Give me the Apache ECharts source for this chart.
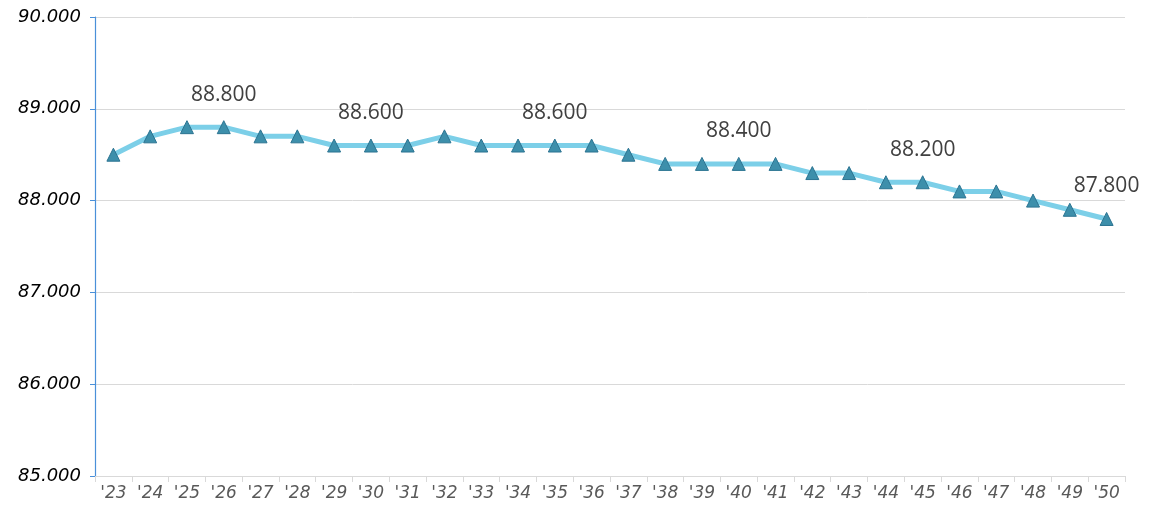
<!DOCTYPE html>
<html>
<head>
<meta charset="utf-8">
<script src="https://cdn.jsdelivr.net/npm/echarts@6/dist/echarts.min.js"></script>
<style>
  html, body { margin: 0; padding: 0; background: #fff; }
  #chart { width: 1156px; height: 509px; }
</style>
</head>
<body>
<div id="chart"></div>
<script>
// years on the x axis
const years = ["'23", "'24", "'25", "'26", "'27", "'28", "'29", "'30", "'31", "'32",
  "'33", "'34", "'35", "'36", "'37", "'38", "'39", "'40", "'41", "'42",
  "'43", "'44", "'45", "'46", "'47", "'48", "'49", "'50"];
const values = [88.5, 88.7, 88.8, 88.8, 88.7, 88.7, 88.6, 88.6, 88.6, 88.7,
  88.6, 88.6, 88.6, 88.6, 88.5, 88.4, 88.4, 88.4, 88.4, 88.3,
  88.3, 88.2, 88.2, 88.1, 88.1, 88.0, 87.9, 87.8];
// points that carry a value label
const labelled = ["'26", "'30", "'35", "'40", "'45", "'50"];

const chart = echarts.init(document.getElementById('chart'));

const seriesData = values.map((v, i) => ({
  value: v,
  label: { show: labelled.includes(years[i]) }
}));

chart.setOption({
  animation: false,
  grid: { left: 95, right: 31, top: 17, bottom: 33 },
  xAxis: {
    type: 'category',
    data: years,
    boundaryGap: true,
    axisLine: { lineStyle: { color: '#d9d9d9', width: 1 } },
    axisTick: { show: true, length: 6, lineStyle: { color: '#d9d9d9' } },
    axisLabel: {
      color: '#595959',
      fontFamily: 'DejaVu Sans',
      fontStyle: 'italic',
      fontSize: 17,
      margin: 9,
      interval: 0
    }
  },
  yAxis: {
    type: 'value',
    min: 85,
    max: 90,
    interval: 1,
    axisLine: { show: true, lineStyle: { color: '#4a90d9', width: 1.2 } },
    axisTick: { show: true, length: 5, lineStyle: { color: '#4a90d9' } },
    splitLine: { lineStyle: { color: '#d9d9d9' } },
    axisLabel: {
      color: '#000',
      fontFamily: 'DejaVu Sans',
      fontStyle: 'italic',
      fontSize: 18,
      margin: 14,
      formatter: v => v.toFixed(3)
    }
  },
  series: [{
    type: 'line',
    data: seriesData,
    lineStyle: { color: '#7ccfe8', width: 5 },
    symbol: 'triangle',
    symbolSize: 13,
    itemStyle: { color: '#3d8fab', borderColor: '#2b7391', borderWidth: 1 },
    label: {
      position: 'top',
      distance: 15,
      color: '#404040',
      fontFamily: 'Open Sans',
      fontSize: 21,
      formatter: p => p.value.toFixed(3)
    }
  }]
});
</script>
</body>
</html>
